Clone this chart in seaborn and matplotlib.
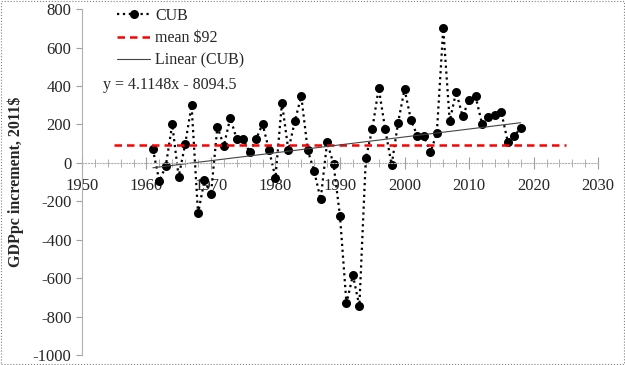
import numpy as np
import pandas as pd
import matplotlib
matplotlib.use('Agg')
import matplotlib.pyplot as plt
from matplotlib.patches import Rectangle
import seaborn as sns

sns.set_style('white')
plt.rcParams['font.family'] = ['Liberation Serif', 'DejaVu Serif']
plt.rcParams['axes.unicode_minus'] = False

# GDP per capita increment, Cuba
years = list(range(1961, 2019))
cub = [72, -95, -17, 200, -72, 96, 300, -263, -90, -164,
       188, 89, 235, 122, 122, 55, 124, 203, 67, -77,
       313, 66, 217, 347, 66, -43, -190, 107, -6, -277,
       -731, -584, -745, 23, 176, 389, 176, -11, 209, 384,
       223, 139, 139, 55, 153, 700, 217, 370, 243, 327,
       347, 205, 240, 247, 263, 110, 139, 183]
mean_val = 92
mean_span = [1955, 2025]
slope, intercept = 4.1148, -8094.5

df = pd.DataFrame({'year': years, 'CUB': cub})

fig = plt.figure(figsize=(6.25, 3.65), dpi=100)
ax = fig.add_axes([0.131, 0.027, 0.826, 0.948])

sns.lineplot(x='year', y='CUB', data=df, ax=ax, color='black', linestyle=':',
             linewidth=1.6, marker='o', markersize=6.5, markeredgewidth=0, label='CUB')
ax.plot(mean_span, [mean_val, mean_val], color='red', linestyle='--', linewidth=1.8,
        dashes=(3, 2), label='mean \\$92')
fit_x = np.array([years[0], years[-1]])
ax.plot(fit_x, slope * fit_x + intercept, color='#444444', linewidth=0.8, label='Linear (CUB)')

ax.text(1953.3, 405, 'y = 4.1148x - 8094.5', fontsize=11.5, va='center')

ax.set_xlim(1950, 2030)
ax.set_ylim(-1000, 800)
ax.set_xticks(range(1950, 2031, 10))
ax.set_xticks(range(1950, 2031, 2), minor=True)
ax.set_yticks(range(-1000, 801, 200))
ax.set_xlabel('')
ax.set_ylabel('GDPpc increment, 2011\\$', fontsize=11.5, fontweight='bold', labelpad=6)

for s in ['top', 'right']:
    ax.spines[s].set_visible(False)
ax.spines['bottom'].set_position(('data', 0))
ax.spines['bottom'].set_color('#b0b0b0')
ax.spines['bottom'].set_linestyle(':')
ax.spines['left'].set_color('#b0b0b0')
ax.tick_params(axis='x', which='both', direction='inout', color='#a0a0a0', labelsize=12)
ax.tick_params(axis='x', which='major', length=8, pad=7)
ax.tick_params(axis='x', which='minor', length=6)
ax.tick_params(axis='y', direction='out', length=4, color='#a0a0a0', labelsize=12)
ax.tick_params(left=True, bottom=True, which='both')

ax.legend(loc='upper left', bbox_to_anchor=(0.04, 1.045), frameon=False, fontsize=11.5,
          handlelength=2.1, labelspacing=0.4, handletextpad=0.3)

fig.patches.append(Rectangle((0.001, 0.002), 0.997, 0.995, transform=fig.transFigure,
                             fill=False, edgecolor='#808080', linestyle=':', linewidth=0.8))

fig.savefig('out.png', dpi=100)
